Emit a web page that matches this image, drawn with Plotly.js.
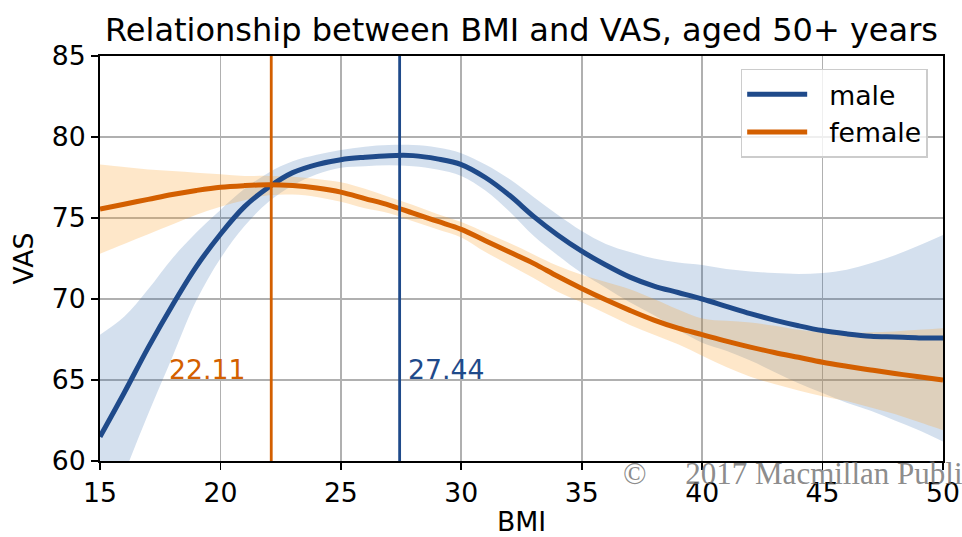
<!DOCTYPE html>
<html>
<head>
<meta charset="utf-8">
<script src="https://cdn.plot.ly/plotly-3.0.1.min.js"></script>
<style>html,body{margin:0;padding:0;background:#fff;}#chart{width:962px;height:537px;}</style>
</head>
<body>
<div id="chart"></div>
<script>
// BMI grid
const bmi = [15,16,17,18,19,20,21,22,23,24,25,26,27,28,29,30,31,32,33,34,35,36,37,38,39,40,41,42,43,44,45,46,47,48,49,50];

// male smoothed VAS and confidence band
const maleVas   = [61.5,64.2,67.0,69.6,72.0,74.0,75.7,76.9,77.8,78.3,78.6,78.75,78.85,78.85,78.65,78.3,77.5,76.4,75.1,73.95,72.95,72.1,71.35,70.8,70.4,70.0,69.55,69.1,68.7,68.35,68.05,67.85,67.7,67.65,67.6,67.6];
const maleUpper = [67.8,68.9,70.6,72.5,74.1,75.5,76.8,77.8,78.5,78.9,79.2,79.4,79.5,79.5,79.35,79.0,78.3,77.4,76.3,75.2,74.2,73.4,72.9,72.5,72.25,72.1,71.85,71.7,71.6,71.55,71.6,71.8,72.2,72.7,73.3,73.95];
const maleLower = [55.5,59.2,62.9,66.4,69.9,72.5,74.5,76.0,77.0,77.7,78.1,78.2,78.25,78.2,78.0,77.6,76.7,75.4,73.9,72.7,71.6,70.7,69.8,69.0,68.1,67.3,66.8,66.2,65.5,64.8,64.2,63.6,63.1,62.5,61.9,61.2];

// female smoothed VAS and confidence band
const femaleVas   = [75.55,75.85,76.15,76.45,76.7,76.9,77.0,77.05,77.0,76.85,76.6,76.2,75.8,75.3,74.8,74.3,73.6,72.9,72.2,71.4,70.65,69.95,69.3,68.7,68.2,67.8,67.4,67.03,66.7,66.4,66.1,65.85,65.62,65.4,65.2,65.0];
const femaleUpper = [78.3,78.15,78.0,77.9,77.8,77.7,77.6,77.6,77.55,77.4,77.2,76.8,76.3,75.8,75.25,74.75,74.1,73.45,72.75,72.05,71.5,71.05,70.6,70.0,69.35,68.8,68.65,68.55,68.35,68.1,67.95,67.9,67.95,68.0,68.1,68.2];
const femaleLower = [72.8,73.4,74.0,74.6,75.2,75.7,76.1,76.4,76.45,76.3,76.0,75.6,75.3,74.8,74.3,73.8,72.9,72.1,71.3,70.45,69.8,69.1,68.4,67.8,67.2,66.5,65.8,65.2,64.75,64.35,64.0,63.7,63.3,62.9,62.4,61.9];

// BMI at which VAS peaks
const seriesNames = ["male","female"];
const peakBmi = [27.44, 22.11];

const xTicks = [15,20,25,30,35,40,45,50];
const yTicks = [60,65,70,75,80,85];

const BLUE = "#1f4a8a", ORANGE = "#d35f00";
const FONT = "DejaVu Sans, Liberation Sans, sans-serif";
const PAD = "\u00a0\u00a0";

const traces = [
  {x: bmi, y: maleLower, mode: "lines", line: {width: 0, shape: "spline"}, showlegend: false, hoverinfo: "skip"},
  {x: bmi, y: maleUpper, mode: "lines", line: {width: 0, shape: "spline"}, fill: "tonexty", fillcolor: "rgba(40,100,170,0.2)", showlegend: false, hoverinfo: "skip"},
  {x: bmi, y: femaleLower, mode: "lines", line: {width: 0, shape: "spline"}, showlegend: false, hoverinfo: "skip"},
  {x: bmi, y: femaleUpper, mode: "lines", line: {width: 0, shape: "spline"}, fill: "tonexty", fillcolor: "rgba(250,160,40,0.25)", showlegend: false, hoverinfo: "skip"},
  {x: bmi, y: maleVas, mode: "lines", name: PAD + seriesNames[0], line: {color: BLUE, width: 5, shape: "spline"}},
  {x: bmi, y: femaleVas, mode: "lines", name: PAD + seriesNames[1], line: {color: ORANGE, width: 5, shape: "spline"}}
];

const peakColors = [BLUE, ORANGE];
const shapes = peakBmi.map((v, i) => ({
  type: "line", xref: "x", yref: "paper", x0: v, x1: v, y0: 0, y1: 1,
  line: {color: peakColors[i], width: 2.8}, layer: "above"
}));

const annotations = [
  {x: peakBmi[0], y: 65, xref: "x", yref: "y", text: peakBmi[0].toFixed(2), showarrow: false,
   xanchor: "left", yanchor: "bottom", xshift: 6, yshift: -7, font: {family: FONT, size: 26.7, color: BLUE}},
  {x: peakBmi[1], y: 65, xref: "x", yref: "y", text: peakBmi[1].toFixed(2), showarrow: false,
   xanchor: "right", yanchor: "bottom", xshift: -24, yshift: -7, font: {family: FONT, size: 26.7, color: ORANGE}},
  {x: (621 - 100) / 843, y: 0, xref: "paper", yref: "paper", text: "©\u00a0\u00a0\u00a0\u00a0 2017 Macmillan Publishers Limited", showarrow: false,
   xanchor: "left", yanchor: "top", yshift: 7, font: {family: "Liberation Serif, Times New Roman, serif", size: 31, color: "rgba(110,110,110,0.8)"}}
];

const axisCommon = {
  showgrid: true, gridcolor: "#b0b0b0", gridwidth: 1.6,
  showline: true, linecolor: "#000", linewidth: 2, mirror: true,
  ticks: "outside", ticklen: 7, tickwidth: 1.6, tickcolor: "#000",
  tickfont: {family: FONT, size: 26.7, color: "#000"},
  zeroline: false, automargin: false
};

const layout = {
  width: 962, height: 537,
  margin: {l: 100, r: 19, t: 56, b: 76},
  paper_bgcolor: "#fff", plot_bgcolor: "#fff",
  title: {text: "Relationship between BMI and VAS, aged 50+ years", x: 0.5, xref: "paper",
          y: 0.944, yref: "container", yanchor: "middle", font: {family: FONT, size: 32, color: "#000"}},
  xaxis: Object.assign({}, axisCommon, {range: [15, 50], tickvals: xTicks,
          title: {text: "BMI", standoff: 9, font: {family: FONT, size: 26.7, color: "#000"}}}),
  yaxis: Object.assign({}, axisCommon, {range: [60, 85], tickvals: yTicks,
          title: {text: "VAS", standoff: 10, font: {family: FONT, size: 26.7, color: "#000"}}}),
  showlegend: true,
  legend: {x: 0.760, y: 0.968, xanchor: "left", yanchor: "top", traceorder: "normal",
           bgcolor: "rgba(255,255,255,0.8)", bordercolor: "#cccccc", borderwidth: 1.5, itemwidth: 60,
           font: {family: FONT, size: 26.7, color: "#000"}},
  shapes: shapes,
  annotations: annotations
};

Plotly.newPlot("chart", traces, layout, {displayModeBar: false, staticPlot: true});
</script>
</body>
</html>
